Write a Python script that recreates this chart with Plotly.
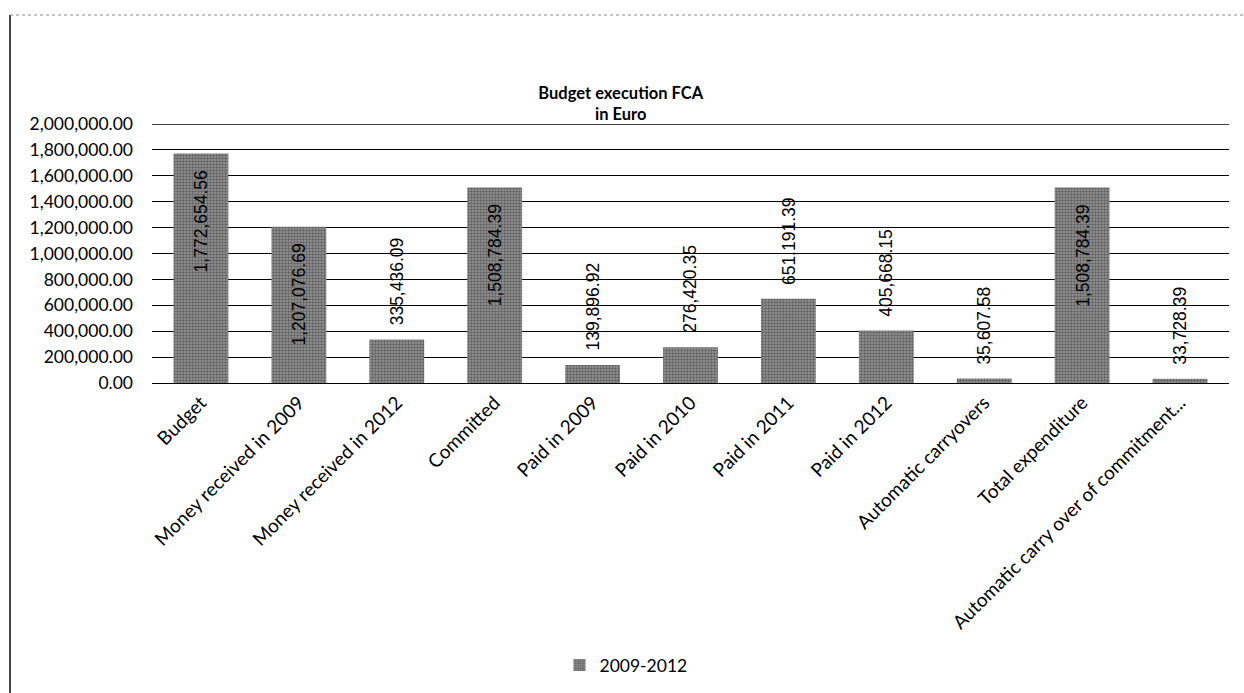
import plotly.graph_objects as go

categories = [
    "Budget",
    "Money received in 2009",
    "Money received in 2012",
    "Committed",
    "Paid in 2009",
    "Paid in 2010",
    "Paid in 2011",
    "Paid in 2012",
    "Automatic carryovers",
    "Total expenditure",
    "Automatic carry over of commitment...",
]
values = [
    1772654.56,
    1207076.69,
    335436.09,
    1508784.39,
    139896.92,
    276420.35,
    651191.39,
    405668.15,
    35607.58,
    1508784.39,
    33728.39,
]
series_name = "2009-2012"
y_ticks = [0, 200000, 400000, 600000, 800000, 1000000, 1200000, 1400000, 1600000, 1800000, 2000000]

W, H = 1244, 693
FONT = "Lato, Carlito, Calibri, sans-serif"
LABEL_FONT = "Liberation Sans, Arial, sans-serif"

fig = go.Figure()
fig.add_trace(go.Bar(
    x=categories,
    y=values,
    name=series_name,
    marker=dict(
        color="#808080",
        line=dict(width=0),
        pattern=dict(shape=".", size=3, solidity=0.5, fgcolor="#2a2a2a", bgcolor="#979797"),
    ),
    showlegend=True,
))

# data labels: inside-end for tall bars, outside-end for short ones
annotations = []
for c, v in zip(categories, values):
    inside = v > 1000000
    annotations.append(dict(
        x=c, y=v, xref="x", yref="y",
        text=f"{v:,.2f}",
        textangle=-90,
        showarrow=False,
        yanchor="top" if inside else "bottom",
        yshift=-15 if inside else 12,
        font=dict(family=LABEL_FONT, size=17.5, color="black"),
    ))

left, right, top, bottom = 152, 15, 124, 310

fig.update_layout(
    width=W, height=H,
    autosize=False,
    margin=dict(l=left, r=right, t=top, b=bottom),
    paper_bgcolor="white",
    plot_bgcolor="white",
    font=dict(family=FONT, size=15, color="black"),
    bargap=0.44,
    annotations=annotations,
    title=dict(
        text="<b>Budget execution FCA</b><br><b>in Euro</b>",
        x=0.499, xref="container", xanchor="center",
        y=1 - 99 / H, yref="container", yanchor="middle",
        font=dict(family=FONT, size=16.5, color="black"),
    ),
    legend=dict(
        orientation="h",
        x=626 / W, xref="container", xanchor="center",
        y=1 - 665 / H, yref="container", yanchor="middle",
        font=dict(family=FONT, size=17.5),
        itemwidth=30,
    ),
    xaxis=dict(
        tickangle=-45,
        tickfont=dict(family=FONT, size=19),
        showline=True, linecolor="black", linewidth=1.2,
        ticks="",
        showgrid=False,
    ),
    yaxis=dict(
        range=[y_ticks[0], y_ticks[-1]],
        tickvals=y_ticks,
        tickformat=",.2f",
        tickfont=dict(family=FONT, size=17.5),
        showgrid=True, gridcolor="black", gridwidth=1.3,
        zeroline=True, zerolinecolor="black", zerolinewidth=1.2,
        ticks="",
        ticklabelstandoff=18,
    ),
    shapes=[
        # top gridline (hidden by plotly at the range edge)
        dict(type="line", xref="paper", yref="y", x0=0, x1=1,
             y0=y_ticks[-1], y1=y_ticks[-1], line=dict(color="black", width=1.3), layer="below"),
        dict(type="line", xref="paper", yref="paper",
             x0=(10 - left) / (W - left - right), x1=(10 - left) / (W - left - right),
             y0=(H - bottom - 15) / (H - top - bottom), y1=(H - bottom - H) / (H - top - bottom),
             line=dict(color="#444444", width=2)),
        dict(type="line", xref="paper", yref="paper",
             x0=(10 - left) / (W - left - right), x1=(W - left) / (W - left - right),
             y0=(H - bottom - 15) / (H - top - bottom), y1=(H - bottom - 15) / (H - top - bottom),
             line=dict(color="#888888", width=1.2, dash="dot")),
    ],
)

fig.write_html("out.html")
